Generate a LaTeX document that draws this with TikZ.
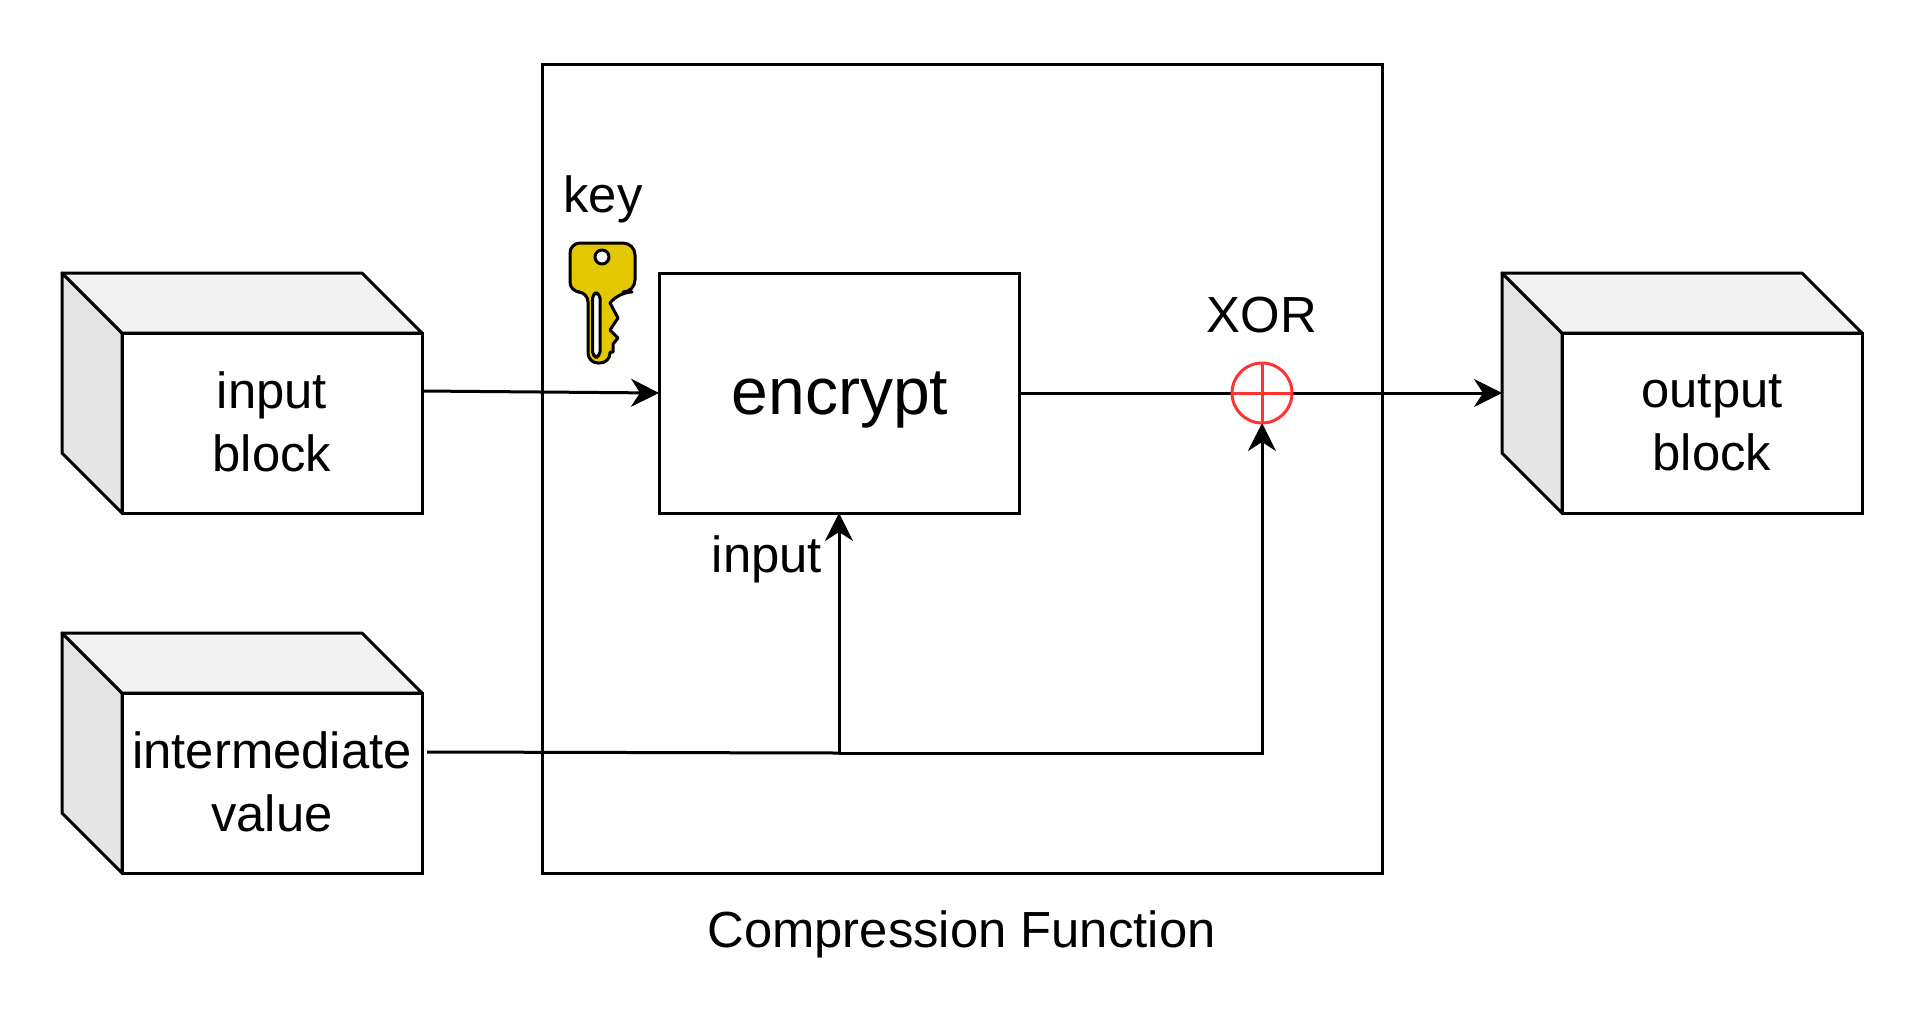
\documentclass[tikz,border=0pt]{standalone}
\usepackage{fontspec}
\setmainfont{Liberation Sans}
\usetikzlibrary{arrows.meta}

\definecolor{keygold}{HTML}{E3C800}
\definecolor{xorred}{HTML}{FF3333}

\tikzset{
    txt/.style = {font=\fontsize{25.4}{31.6}\selectfont, align=center, inner sep=0pt, outer sep=0pt},
    face/.style = {txt, draw, line width=1.5pt, fill=white, minimum width=150pt, minimum height=90pt},
    keyline/.style = {draw=black, line width=1.5pt, line join=round}
}

\begin{document}
\begin{tikzpicture}[x=.5pt, y=-.5pt, line width=1.5pt, >={Stealth[length=14pt, width=14pt, inset=4.5pt]}]
    \useasboundingbox (0,0) rectangle (1925,1023);

    % compression function frame
    \node[draw, line width=1.5pt, minimum width=420pt, minimum height=404.5pt, outer sep=0pt] (frame) at (962.75,468.5) {};
    \node[txt, anchor=base] (title) at (961.5,947) {Compression Function};

    % the three blocks
    \node[face] (inblock) at (272,423) {input\\block\rule[-1.5pt]{0pt}{0pt}};
    \node[face] (ivblock) at (272,783) {intermediate\\value\rule[-1.5pt]{0pt}{0pt}};
    \node[face] (outblock) at (1712,423) {output\\block};
    \foreach \b in {inblock,ivblock,outblock} {
        \filldraw[fill=black!10, line join=round] (\b.north west) -- ++(-60,-60) -- ++(0,180) -- (\b.south west) -- cycle;
        \filldraw[fill=black!5, line join=round] (\b.north west) -- ++(-60,-60) -- ++(300,0) -- (\b.north east) -- cycle;
    }

    % encrypt box and xor
    \node[draw, fill=white, line width=1.5pt, minimum width=180pt, minimum height=120pt, outer sep=0pt] (encrypt) at (839,393) {};
    \node[txt, font=\fontsize{33}{40}\selectfont, anchor=base] (enctxt) at (840,414) {encrypt};
    \node[draw=none, circle, minimum size=30pt, inner sep=0pt, outer sep=0pt] (xor) at (1262,393) {};
    \node[txt, anchor=base] (xortxt) at (1262,332) {XOR};
    \node[txt, anchor=base] (keytxt) at (603,212) {key};
    \node[txt, anchor=base] (inputtxt) at (767,572) {input};

    % key
    \fill[fill=keygold, keyline, rounded corners=6pt] (570,243) -- (635,243) -- (635,292) -- (620,292)
        [sharp corners] -- (610,303) -- (618,318) -- (610,330) -- (618,338) -- (613,344) -- (613,352) -- (610,352)
        [rounded corners=5pt] -- (610,363) -- (588,363) -- (588,292) -- (570,292) -- cycle;
    \fill[fill=white, keyline, rounded corners=2.5pt] (592.5,293) rectangle (600,357);
    \fill[fill=white, keyline] (602,257) circle [radius=7];

    \coordinate (inout) at (422,391);
    \coordinate (ivout) at (427,752);
    \coordinate (split) at (839,753);
    \coordinate (outin) at (1502,393);

    \path[->]
    (inout) edge (encrypt.west)
    (split) edge (encrypt.south)
    (split) edge[-] (ivout)
    (encrypt.east) edge[-] (xor.west)
    (xor.east) edge (outin);
    \draw[->] (split) -| (xor.south);

    \draw[draw=xorred] (xor.center) circle [radius=30];
    \draw[draw=xorred] (xor.west) -- (xor.east) (xor.north) -- (xor.south);
\end{tikzpicture}
\end{document}
